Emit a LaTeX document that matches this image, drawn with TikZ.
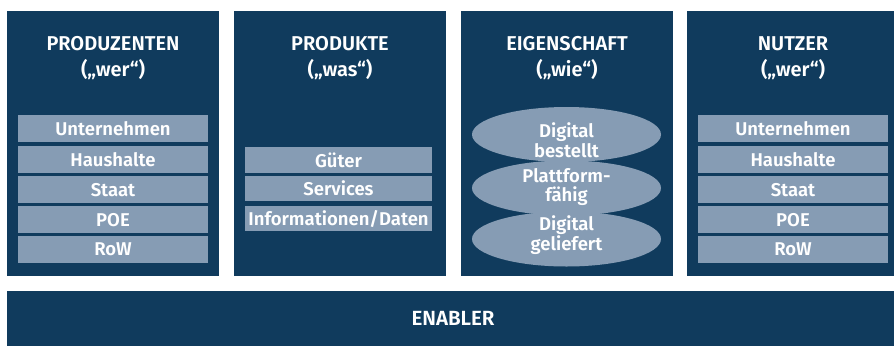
\documentclass[tikz,border=0pt]{standalone}
\usepackage{fontspec}
\setmainfont{Fira Sans}[BoldFont={Fira Sans SemiBold}]
\usetikzlibrary{shapes.geometric}
\definecolor{navy}{HTML}{103B5D}
\definecolor{lightbox}{HTML}{869CB4}
\tikzset{
  panel/.style={fill=navy, draw=none},
  title/.style={text=white, font=\fontsize{20}{26}\selectfont\bfseries, align=center, inner sep=0pt},
  itembox/.style={fill=lightbox, text=white, font=\fontsize{18.5}{19}\selectfont\bfseries, inner sep=0pt, anchor=north},
  oval/.style={ellipse, fill=lightbox, draw=none, minimum width=189pt, minimum height=55pt, inner sep=0pt},
  ovaltext/.style={text=white, font=\fontsize{18.5}{19.5}\selectfont\bfseries, align=center, inner sep=0pt}
}
\begin{document}
\begin{tikzpicture}[x=1pt,y=-1pt]
\useasboundingbox (0,0) rectangle (894,346);
\fill[white] (0,0) rectangle (894,346);
% panels
\fill[panel] (7,11) rectangle (219,276);
\fill[panel] (234,11) rectangle (446,276);
\fill[panel] (461,11) rectangle (673,276);
\fill[panel] (687,11) rectangle (894,276);
\fill[panel] (7,291) rectangle (894,346);
% titles
\node[title] (t1) at (113,58) {PRODUZENTEN\\(„wer“)};
\node[title] (t2) at (340,58) {PRODUKTE\\(„was“)};
\node[title] (t3) at (567,58) {EIGENSCHAFT\\(„wie“)};
\node[title] (t4) at (793,58) {NUTZER\\(„wer“)};
\node[text=white, font=\fontsize{20.5}{22}\selectfont\bfseries, inner sep=0pt] (en) at (453,318.5) {ENABLER};
% producers
\foreach \y/\t [count=\i] in {115/Unternehmen,146/Haushalte,176/Staat,206/POE,236/RoW}{
  \node[itembox, minimum width=190pt, minimum height=27pt] (p\i) at (113,\y) {\t};
}
% users
\foreach \y/\t [count=\i] in {115/Unternehmen,146/Haushalte,176/Staat,206/POE,236/RoW}{
  \node[itembox, minimum width=190pt, minimum height=27pt] (u\i) at (793,\y) {\t};
}
% products
\node[itembox, minimum width=187pt, minimum height=26pt] (g1) at (338.5,147) {Güter};
\node[itembox, minimum width=187pt, minimum height=25pt] (g2) at (338.5,176) {Services};
\node[itembox, minimum width=187pt, minimum height=25pt] (g3) at (338.5,206) {Informationen/Daten};
% properties
\node[oval] (e1) at (566.5,134.5) {};
\node[oval] (e2) at (566.5,188) {};
\node[oval] (e3) at (566.5,239) {};
\node[ovaltext] (x1) at (566.5,140) {Digital\\bestellt};
\node[ovaltext] (x2) at (566.5,187) {Plattform-\\fähig};
\node[ovaltext] (x3) at (566.5,235) {Digital\\geliefert};
\end{tikzpicture}
\end{document}
